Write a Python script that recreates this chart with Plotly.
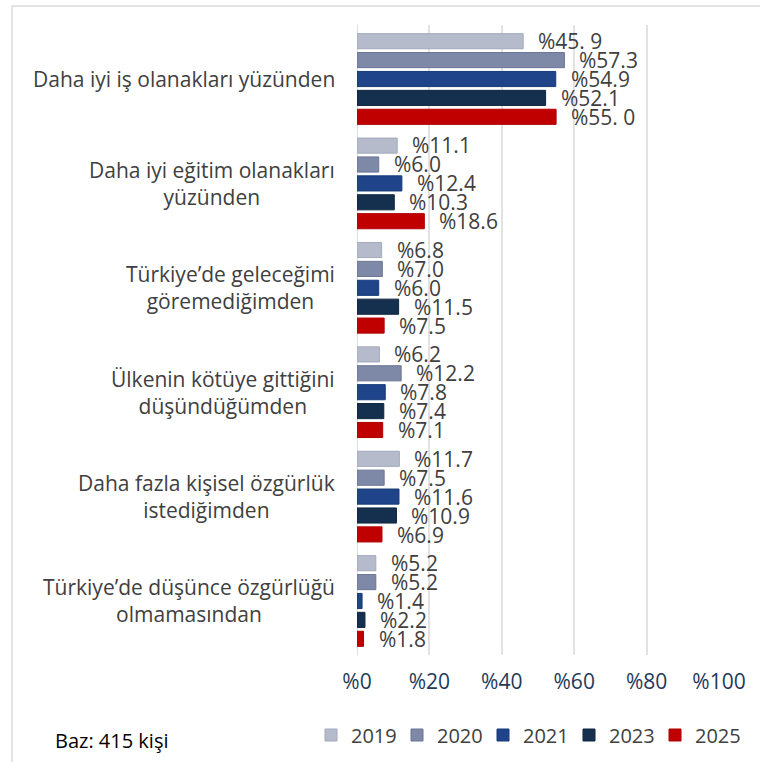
import plotly.graph_objects as go

# Reasons for wanting to live abroad, by survey year (percent)
categories = [
    "Daha iyi iş olanakları yüzünden",
    "Daha iyi eğitim olanakları<br>yüzünden",
    "Türkiye’de geleceğimi<br>göremediğimden",
    "Ülkenin kötüye gittiğini<br>düşündüğümden",
    "Daha fazla kişisel özgürlük<br>istediğimden",
    "Türkiye’de düşünce özgürlüğü<br>olmamasından",
]

years = ["2019", "2020", "2021", "2023", "2025"]

values_2019 = [45.9, 11.1, 6.8, 6.2, 11.7, 5.2]
values_2020 = [57.3, 6.0, 7.0, 12.2, 7.5, 5.2]
values_2021 = [54.9, 12.4, 6.0, 7.8, 11.6, 1.4]
values_2023 = [52.1, 10.3, 11.5, 7.4, 10.9, 2.2]
values_2025 = [55.0, 18.6, 7.5, 7.1, 6.9, 1.8]

series = [values_2019, values_2020, values_2021, values_2023, values_2025]

colors = ["#b6bbcb", "#7e88a7", "#1f4489", "#15304e", "#c00000"]
edge_colors = ["#a3a9bc", "#6b7596", "#173a78", "#0f2640", "#b00000"]

tick_vals = [0, 20, 40, 60, 80, 100]
tick_text = ["%0", "%20", "%40", "%60", "%80", "%100"]

# a couple of labels are printed with a stray space in the source table
label_overrides = {(0, 0): "%45. 9", (4, 0): "%55. 0"}

FONT = "Open Sans"
W, H = 760, 762
ML, MR, MT, MB = 357, 41, 25, 107
pw, ph = W - ML - MR, H - MT - MB

fig = go.Figure()
for i, (yr, vals) in enumerate(zip(years, series)):
    fig.add_trace(go.Bar(
        name=yr,
        y=categories,
        x=vals,
        orientation="h",
        marker=dict(color=colors[i], line=dict(color=edge_colors[i], width=1)),
        hoverinfo="x+name",
    ))

# value labels to the right of every bar
annotations = []
slot = ph / len(categories) * (1 - 0.095) / len(years)
for i, vals in enumerate(series):
    for j, v in enumerate(vals):
        txt = label_overrides.get((i, j), f"%{v:.1f}")
        annotations.append(dict(
            x=v, y=categories[j], xref="x", yref="y",
            text=txt, showarrow=False,
            xanchor="left", yanchor="middle",
            xshift=13, yshift=(2 - i) * slot,
            font=dict(family=FONT, size=21, color="#404040"),
        ))

# category labels: right-aligned block, lines centred within it
for cat in categories:
    annotations.append(dict(
        x=0, y=cat, xref="paper", yref="y",
        text=cat, showarrow=False,
        xanchor="right", yanchor="middle", align="center",
        xshift=-20,
        font=dict(family=FONT, size=21, color="#404040"),
    ))

# footnote with the sample size
annotations.append(dict(
    x=(53 - ML) / pw, y=(H - MB - 740) / ph, xref="paper", yref="paper",
    text="Baz: 415 kişi", showarrow=False,
    xanchor="left", yanchor="middle",
    font=dict(family=FONT, size=20, color="#000000"),
))

# faint frame around the chart
frame = dict(
    type="rect", xref="paper", yref="paper",
    x0=(12 - ML) / pw, x1=(W + 20 - ML) / pw,
    y0=(H - MB - (H + 20)) / ph, y1=(H - MB - 6) / ph,
    line=dict(color="#e4e4e4", width=2), fillcolor="rgba(0,0,0,0)",
    layer="below",
)

fig.update_layout(
    width=W, height=H,
    margin=dict(l=ML, r=MR, t=MT, b=MB, autoexpand=False),
    paper_bgcolor="white", plot_bgcolor="white",
    barmode="group", bargap=0.095, bargroupgap=0.2,
    font=dict(family=FONT, color="#404040"),
    xaxis=dict(
        range=[0, 100], tickvals=tick_vals, ticktext=tick_text,
        showgrid=True, gridcolor="#e2e2e2", gridwidth=2,
        zeroline=False, showline=False, ticks="",
        tickfont=dict(family=FONT, size=21, color="#1f3a5a"),
        ticklabelstandoff=12,
        fixedrange=True,
    ),
    yaxis=dict(
        autorange="reversed", showticklabels=False,
        showgrid=False, zeroline=False, ticks="",
        showline=False, fixedrange=True,
    ),
    legend=dict(
        orientation="h", xref="paper", yref="paper",
        x=(311 - ML) / pw, y=(H - MB - 735) / ph,
        xanchor="left", yanchor="middle",
        entrywidth=41, entrywidthmode="pixels", itemwidth=30,
        font=dict(family=FONT, size=20, color="#404040"),
        traceorder="normal",
    ),
    shapes=[
        frame,
        dict(type="line", xref="x", yref="paper", x0=0, x1=0, y0=0, y1=1,
             line=dict(color="#d6e0ee", width=2), layer="below"),
    ],
    annotations=annotations,
    showlegend=True,
)

fig.write_html("out.html")
